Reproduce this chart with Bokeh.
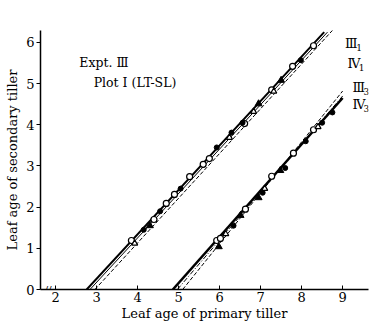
from bokeh.plotting import figure
from bokeh.models import Range1d, FixedTicker, Label
from bokeh.core.properties import value
from bokeh.embed import file_html
from bokeh.resources import INLINE

# ---------------- data ----------------
x_ticks = [2, 3, 4, 5, 6, 7, 8, 9]
y_ticks = [0, 1, 2, 3, 4, 5, 6]

# Group 1 (III1 / IV1) observations
g1_oc_x = [3.85, 4.40, 4.70, 4.90, 5.27, 5.60, 5.75, 6.61, 7.27, 7.78, 8.29]
g1_oc_y = [1.19, 1.70, 2.09, 2.31, 2.74, 3.04, 3.18, 4.03, 4.85, 5.42, 5.92]
g1_fc_x = [4.15, 4.55, 5.05, 5.93, 6.29, 6.56, 7.98]
g1_fc_y = [1.45, 1.90, 2.45, 3.45, 3.81, 4.05, 5.57]
g1_ot_x = [3.93, 6.24, 6.83, 7.32]
g1_ot_y = [1.12, 3.69, 4.32, 4.81]
g1_ft_x = [4.30, 6.95, 7.50]
g1_ft_y = [1.55, 4.51, 5.08]

# Group 3 (III3 / IV3) observations
g3_oc_x = [5.93, 6.02, 6.63, 7.27, 7.80, 8.29]
g3_oc_y = [1.19, 1.24, 1.95, 2.75, 3.31, 3.88]
g3_fc_x = [6.34, 7.05, 7.60, 8.10, 8.50, 8.75]
g3_fc_y = [1.55, 2.35, 2.95, 3.60, 4.05, 4.30]
g3_ot_x = [6.15, 7.10, 8.40]
g3_ot_y = [1.35, 2.45, 3.95]
g3_ft_x = [5.98, 6.51, 6.95, 7.48]
g3_ft_y = [1.04, 1.80, 2.23, 2.89]

# Fitted lines (endpoints)
g1_solid_x = [2.76, 8.55]
g1_solid_y = [0.0, 6.25]
g1_solid2_x = [2.84, 8.63]
g1_solid2_y = [0.0, 6.25]
g1_dash_x = [2.96, 8.85]
g1_dash_y = [0.0, 6.40]

g3_solid_x = [4.86, 9.00]
g3_solid_y = [0.0, 4.65]
g3_dashdot_x = [4.97, 9.00]
g3_dashdot_y = [0.0, 4.70]
g3_dash_x = [5.10, 9.00]
g3_dash_y = [0.0, 4.82]

# Line labels
lab_main = ["Ⅲ", "Ⅳ", "Ⅲ", "Ⅳ"]
lab_sub = ["1", "1", "3", "3"]
lab_x = [9.06, 9.12, 9.24, 9.24]
lab_y = [5.97, 5.49, 4.90, 4.49]

SERIF = "DejaVu Serif, Noto Sans CJK JP"

# ---------------- figure ----------------
p = figure(width=370, height=323,
           x_range=Range1d(1.634, 9.63), y_range=Range1d(0, 6.29),
           output_backend="svg", toolbar_location=None,
           min_border_left=40, min_border_right=2,
           min_border_top=30, min_border_bottom=34)
p.outline_line_color = None
p.grid.visible = False
p.background_fill_color = "white"

# axes
p.xaxis.ticker = FixedTicker(ticks=x_ticks)
p.yaxis.ticker = FixedTicker(ticks=y_ticks)
for ax in (p.xaxis[0], p.yaxis[0]):
    ax.axis_line_color = "black"
    ax.axis_line_width = 1.5
    ax.major_tick_line_color = "black"
    ax.major_tick_line_width = 1
    ax.minor_tick_line_color = None
    ax.major_label_text_font = SERIF
    ax.major_label_text_font_size = "13px"
    ax.major_label_text_color = "black"
    ax.axis_label_text_font = SERIF
    ax.axis_label_text_font_size = "13px"
    ax.axis_label_text_font_style = "normal"
    ax.axis_label_text_color = "black"

p.xaxis.major_tick_in = 4
p.xaxis.major_tick_out = 0
p.xaxis.major_label_standoff = 2
p.xaxis.axis_label = "Leaf age of primary tiller"
p.xaxis.axis_label_standoff = 1

p.yaxis.major_tick_in = 0
p.yaxis.major_tick_out = 4
p.yaxis.major_label_standoff = 2
p.yaxis.axis_label = "Leaf age of secondary tiller"
p.yaxis.axis_label_standoff = 3

# fitted lines
p.line(g1_solid_x, g1_solid_y, line_color="black", line_width=2)
p.line(g1_solid2_x, g1_solid2_y, line_color="black", line_width=1)
p.line(g1_dash_x, g1_dash_y, line_color="black", line_width=1, line_dash="4 2")

p.line(g3_solid_x, g3_solid_y, line_color="black", line_width=2.5)
p.line(g3_dashdot_x, g3_dashdot_y, line_color="black", line_width=1, line_dash="5 2 1 2")
p.line(g3_dash_x, g3_dash_y, line_color="black", line_width=1, line_dash="4 2")

# markers
for xs, ys in ((g1_oc_x, g1_oc_y), (g3_oc_x, g3_oc_y)):
    p.scatter(xs, ys, marker="circle", size=6, fill_color="white",
              line_color="black", line_width=1.2)
for xs, ys in ((g1_fc_x, g1_fc_y), (g3_fc_x, g3_fc_y)):
    p.scatter(xs, ys, marker="circle", size=5, fill_color="black",
              line_color="black")
for xs, ys in ((g1_ot_x, g1_ot_y), (g3_ot_x, g3_ot_y)):
    p.scatter(xs, ys, marker="triangle", size=6, fill_color="white",
              line_color="black", line_width=1.2)
for xs, ys in ((g1_ft_x, g1_ft_y), (g3_ft_x, g3_ft_y)):
    p.scatter(xs, ys, marker="triangle", size=7, fill_color="black",
              line_color="black")

# line labels
p.text(lab_x, lab_y, text=lab_main, text_font=value(SERIF),
       text_font_size="13px", text_color="black",
       text_baseline="middle", text_align="left")
p.text([x + 0.27 for x in lab_x], lab_y, text=lab_sub, text_font=value(SERIF),
       text_font_size="9px", text_color="black",
       text_baseline="middle", text_align="left", y_offset=4)

# annotation texts
p.add_layout(Label(x=2.58, y=5.51, text="Expt.  Ⅲ", text_font=SERIF,
                   text_font_size="12.5px", text_color="black",
                   text_baseline="middle", text_align="left"))
p.add_layout(Label(x=2.93, y=5.03, text="Plot  Ⅰ (LT-SL)", text_font=SERIF,
                   text_font_size="12.5px", text_color="black",
                   text_baseline="middle", text_align="left"))

# axis break mark
p.add_layout(Label(x=1.82, y=0.0, text="//", text_font=SERIF,
                   text_font_size="10px", text_color="black",
                   text_baseline="middle", text_align="center"))

open("out.html", "w").write(file_html(p, INLINE))
